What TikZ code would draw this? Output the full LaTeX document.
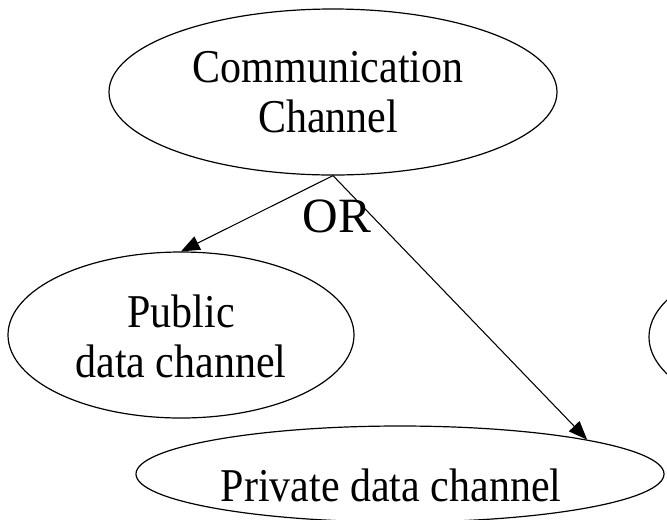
\documentclass[tikz,border=0pt]{standalone}
\usepackage{fontspec}
\setmainfont{Liberation Serif}
\usetikzlibrary{shapes.geometric,arrows.meta}

\begin{document}
\begin{tikzpicture}[x=0.75pt,y=0.75pt,yscale=-1,
    chan/.style={draw, ellipse, line width=0.9pt, inner sep=0pt},
    lbl/.style={inner sep=0pt, align=center, font=\fontsize{31.5}{33.5}\selectfont, yscale=1.12},
    link/.style={line width=0.8pt, -{Triangle[length=14pt,width=11pt]}}]
        \useasboundingbox (0,0) rectangle (667,519);
        \clip (0,0) rectangle (667,519);

        %Shape: Ellipse [top]
        \node [chan, minimum width=336pt, minimum height=124.5pt] (comm) at (333,92) {};
        %Shape: Ellipse [left]
        \node [chan, minimum width=259.5pt, minimum height=124.5pt] (public) at (181,335) {};
        %Shape: Ellipse [bottom]
        \node [chan, minimum width=396pt, minimum height=72pt] (private) at (400,474) {};
        %Shape: Ellipse [right, cut off]
        \node [chan, minimum width=259.5pt, minimum height=124.5pt] (other) at (822,337) {};

        %Straight Lines
        \draw [link] (comm.south) -- (public.north);
        \draw [link] (comm.south) -- (private.north east);

        % Text Node
        \node [lbl] (commtext) at (328,92) {Communication\\Channel};
        % Text Node
        \node [lbl] (pubtext) at (181,336) {Public\\data channel};
        % Text Node
        \node [lbl] (privtext) at (391,485) {Private data channel};
        % Text Node
        \node [inner sep=0pt, font=\fontsize{37}{44}\selectfont] (or) at (337,216) {OR};

\end{tikzpicture}
\end{document}
